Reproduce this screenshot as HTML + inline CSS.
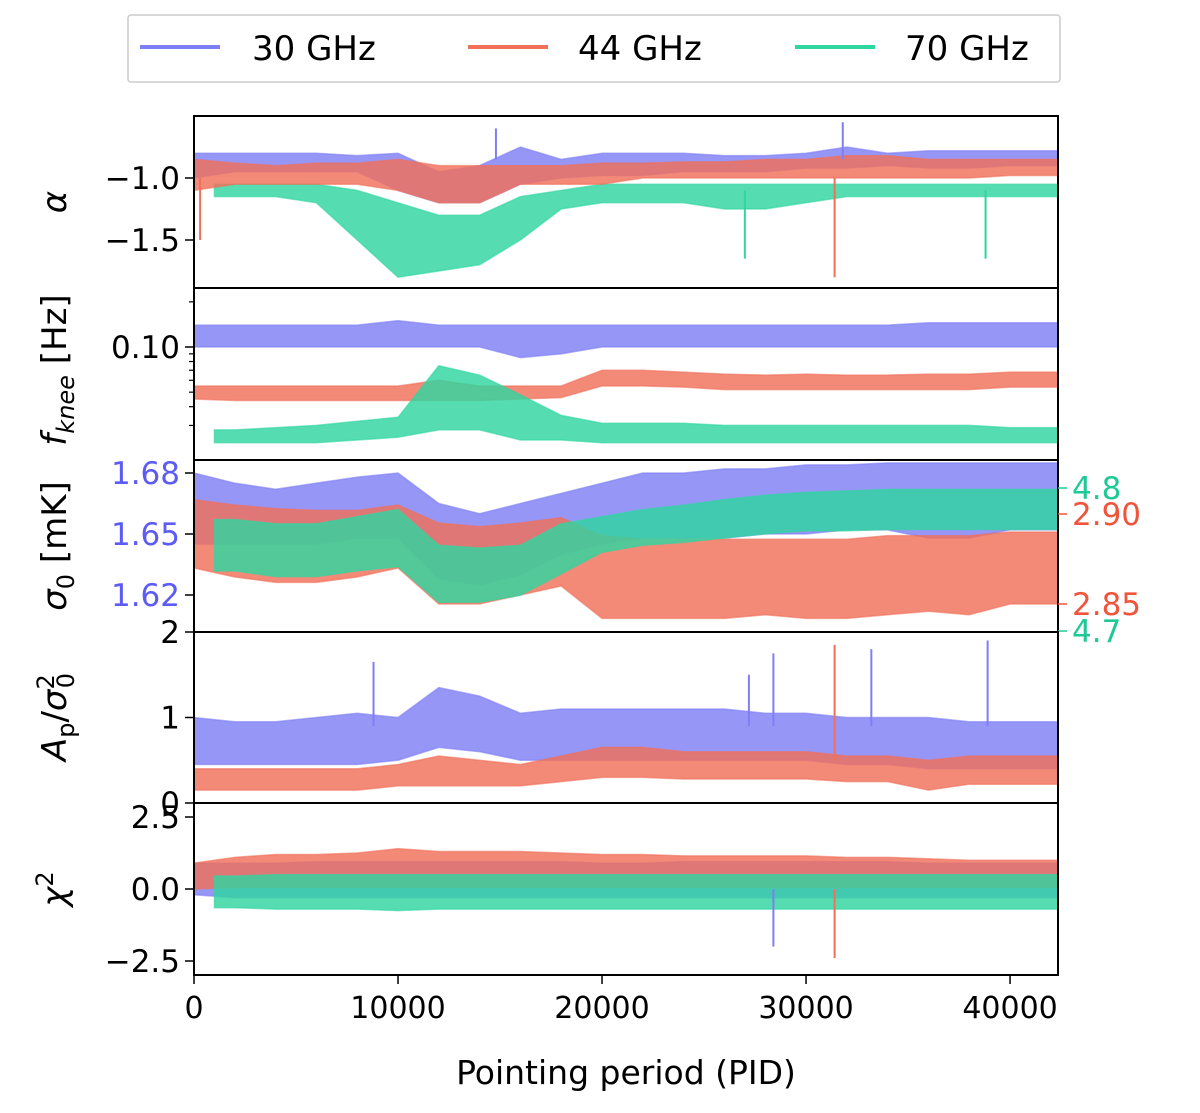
<!DOCTYPE html>
<html><head><meta charset="utf-8"><style>
body{margin:0;background:#fff;}
svg text{font-family:"DejaVu Sans","Liberation Sans",sans-serif;}
</style></head><body>
<svg id="c" width="1200" height="1108" xmlns="http://www.w3.org/2000/svg">
<g>
<rect x="128" y="15" width="932" height="67" fill="#fff" stroke="#ccc" stroke-width="1.5" rx="3"/>
<line x1="140" y1="47" x2="220" y2="47" stroke="#7f7ff5" stroke-width="4"/>
<text x="252" y="60" font-size="34">30 GHz</text>
<line x1="468" y1="47" x2="548" y2="47" stroke="#f0705a" stroke-width="4"/>
<text x="578" y="60" font-size="34">44 GHz</text>
<line x1="795" y1="47" x2="875" y2="47" stroke="#30d5a0" stroke-width="4"/>
<text x="905" y="60" font-size="34">70 GHz</text>
</g>
</svg>
<script>
const N=NaN;
const pids=[0,2000,4000,6000,8000,10000,12000,14000,16000,18000,20000,22000,24000,26000,28000,30000,32000,34000,36000,38000,40000,42350];
// alpha
const aBlueHi=[-0.8,-0.8,-0.8,-0.8,-0.82,-0.8,-0.95,-0.9,-0.75,-0.85,-0.8,-0.8,-0.8,-0.82,-0.82,-0.8,-0.75,-0.8,-0.78,-0.78,-0.78,-0.78];
const aBlueLo=[-1.0,-0.95,-0.95,-0.95,-0.95,-1.1,-1.2,-1.2,-1.05,-1.0,-0.98,-0.98,-0.95,-0.95,-0.95,-0.92,-0.92,-0.9,-0.92,-0.92,-0.9,-0.9];
const aRedHi=[-0.85,-0.88,-0.9,-0.88,-0.88,-0.85,-0.9,-0.9,-0.9,-0.9,-0.88,-0.88,-0.87,-0.87,-0.85,-0.85,-0.82,-0.82,-0.85,-0.85,-0.85,-0.85];
const aRedLo=[-1.1,-1.05,-1.05,-1.05,-1.05,-1.1,-1.2,-1.2,-1.05,-1.05,-1.05,-1.0,-1.0,-1.0,-1.0,-1.0,-1.0,-1.0,-1.0,-1.0,-0.98,-0.98];
const aGreenHi=[N,-1.05,-1.05,-1.05,-1.1,-1.2,-1.3,-1.3,-1.15,-1.1,-1.05,-1.05,-1.05,-1.05,-1.05,-1.05,-1.05,-1.05,-1.05,-1.05,-1.05,-1.05];
const aGreenLo=[N,-1.15,-1.15,-1.2,-1.5,-1.8,-1.75,-1.7,-1.5,-1.25,-1.2,-1.2,-1.2,-1.25,-1.25,-1.2,-1.15,-1.15,-1.15,-1.15,-1.15,-1.15];
// fknee
const fBlueHi=[0.14,0.14,0.14,0.14,0.14,0.15,0.14,0.14,0.14,0.14,0.14,0.14,0.14,0.14,0.14,0.14,0.14,0.14,0.145,0.145,0.145,0.145];
const fBlueLo=[0.1,0.1,0.1,0.1,0.1,0.1,0.1,0.1,0.085,0.09,0.1,0.1,0.1,0.1,0.1,0.1,0.1,0.1,0.1,0.1,0.1,0.1];
const fRedHi=[0.055,0.055,0.055,0.055,0.055,0.055,0.06,0.055,0.055,0.055,0.07,0.07,0.068,0.066,0.065,0.066,0.065,0.065,0.066,0.066,0.068,0.068];
const fRedLo=[0.045,0.044,0.044,0.044,0.044,0.044,0.044,0.044,0.045,0.046,0.055,0.055,0.054,0.052,0.052,0.052,0.052,0.052,0.052,0.052,0.054,0.054];
const fGreenHi=[N,0.028,0.029,0.03,0.032,0.034,0.075,0.065,0.048,0.035,0.031,0.031,0.031,0.03,0.03,0.03,0.03,0.03,0.03,0.03,0.029,0.029];
const fGreenLo=[N,0.023,0.023,0.023,0.024,0.025,0.028,0.028,0.024,0.024,0.023,0.023,0.023,0.023,0.023,0.023,0.023,0.023,0.023,0.023,0.023,0.023];
// sigma0 (blue left axis, red/green right axes)
const sBlueHi=[1.68,1.675,1.672,1.675,1.678,1.68,1.665,1.66,1.665,1.67,1.675,1.68,1.68,1.682,1.682,1.684,1.684,1.685,1.685,1.685,1.685,1.685];
const sBlueLo=[1.645,1.645,1.645,1.645,1.648,1.648,1.628,1.625,1.63,1.64,1.645,1.648,1.648,1.648,1.65,1.65,1.652,1.652,1.648,1.648,1.652,1.652];
const sRedHi=[2.908,2.905,2.903,2.902,2.902,2.905,2.895,2.893,2.895,2.898,2.888,2.886,2.886,2.886,2.886,2.886,2.886,2.888,2.888,2.888,2.89,2.89];
const sRedLo=[2.87,2.865,2.862,2.862,2.865,2.87,2.85,2.85,2.855,2.86,2.842,2.842,2.842,2.842,2.844,2.842,2.842,2.844,2.846,2.844,2.85,2.85];
const sGreenHi=[N,4.778,4.775,4.775,4.78,4.785,4.76,4.758,4.76,4.775,4.78,4.785,4.788,4.792,4.795,4.797,4.798,4.799,4.799,4.799,4.799,4.799];
const sGreenLo=[N,4.742,4.738,4.738,4.742,4.745,4.72,4.72,4.725,4.74,4.755,4.76,4.762,4.765,4.768,4.77,4.77,4.771,4.771,4.771,4.771,4.771];
// Ap/sigma0^2
const pBlueHi=[1.0,0.95,0.95,1.0,1.05,1.0,1.35,1.25,1.05,1.1,1.1,1.1,1.1,1.1,1.05,1.05,1.0,1.0,1.0,0.95,0.95,0.95];
const pBlueLo=[0.45,0.45,0.45,0.45,0.45,0.5,0.65,0.6,0.5,0.5,0.5,0.5,0.5,0.5,0.5,0.5,0.45,0.45,0.4,0.4,0.4,0.4];
const pRedHi=[0.4,0.4,0.4,0.4,0.4,0.45,0.55,0.5,0.45,0.55,0.65,0.65,0.6,0.6,0.6,0.6,0.55,0.55,0.5,0.55,0.55,0.55];
const pRedLo=[0.15,0.15,0.15,0.15,0.15,0.2,0.2,0.2,0.2,0.25,0.3,0.3,0.28,0.28,0.28,0.28,0.25,0.25,0.15,0.22,0.22,0.22];
// chi2
const cBlueHi=[0.9,0.9,0.9,0.95,0.95,0.95,0.95,0.95,0.95,0.95,0.9,0.9,0.95,0.95,0.95,0.95,0.95,0.95,0.9,0.9,0.9,0.9];
const cBlueLo=[-0.2,-0.3,-0.3,-0.3,-0.3,-0.3,-0.3,-0.3,-0.3,-0.3,-0.3,-0.3,-0.3,-0.3,-0.3,-0.3,-0.3,-0.3,-0.3,-0.3,-0.3,-0.3];
const cRedHi=[0.9,1.1,1.2,1.2,1.25,1.4,1.3,1.3,1.3,1.25,1.2,1.2,1.15,1.15,1.15,1.15,1.1,1.1,1.05,1.0,1.0,1.0];
const cRedLo=[0.0,0.05,0.05,0.05,0.05,0.05,0.05,0.05,0.05,0.05,0.05,0.05,0.05,0.05,0.05,0.05,0.05,0.05,0.05,0.05,0.05,0.05];
const cGreenHi=[N,0.45,0.5,0.5,0.5,0.5,0.5,0.5,0.5,0.5,0.5,0.5,0.5,0.5,0.5,0.5,0.5,0.5,0.5,0.5,0.5,0.5];
const cGreenLo=[N,-0.65,-0.7,-0.7,-0.7,-0.75,-0.7,-0.7,-0.7,-0.7,-0.7,-0.7,-0.7,-0.7,-0.7,-0.7,-0.7,-0.7,-0.7,-0.7,-0.7,-0.7];
// spikes: [series, pid, value]
const aSpikes=[["r",300,-1.5],["r",31400,-1.8],["g",27000,-1.65],["g",38800,-1.65],["b",14800,-0.6],["b",31800,-0.55]];
const pSpikes=[["b",8800,1.65],["b",27200,1.5],["b",28400,1.75],["r",31400,1.85],["b",33200,1.8],["b",38900,1.9]];
const cSpikes=[["b",28400,-2.0],["r",31400,-2.4]];
const xTicks=[0,10000,20000,30000,40000];

const X0=194,X1=1058,XMAX=42350;
const xs=p=>X0+(X1-X0)*p/XMAX;
const col={b:"#7f7ff5",r:"#f0705a",g:"#30d5a0"};
const svg=document.getElementById('c');
const NS="http://www.w3.org/2000/svg";
function mk(t,a,parent){const e=document.createElementNS(NS,t);for(const k in a)e.setAttribute(k,a[k]);(parent||svg).appendChild(e);return e;}
function lin(v0,y0,v1,y1){return v=>y0+(y1-y0)*(v-v0)/(v1-v0);}
function band(hi,lo,ys,c,name,top,bot){
  const g=mk('g',{});
  
  
  let up=[],dn=[];
  for(let i=0;i<pids.length;i++){
    if(isNaN(hi[i]))continue;
    const x=xs(pids[i]);
    up.push([x,Math.max(top,ys(hi[i]))]);dn.push([x,Math.min(bot,ys(lo[i]))]);
  }
  if(isNaN(hi[0])){up.unshift([xs(1000),up[0][1]]);dn.unshift([xs(1000),dn[0][1]]);}
  const pts=up.concat(dn.reverse()).map(p=>p.join(',')).join(' ');
  mk('polygon',{points:pts,fill:c,'fill-opacity':0.82,stroke:c,'stroke-width':1.5,'stroke-opacity':0.6},g);
}
function spikes(arr,ys,base,name){
  arr.forEach(s=>{const x=xs(s[1]);
    const l=mk('line',{x1:x,x2:x,y1:ys(base(s[0])),y2:ys(s[2]),stroke:col[s[0]],'stroke-width':2});
    
    });
}
function frame(top,bot,name){
  const r=mk('rect',{x:X0,y:top,width:X1-X0,height:bot-top,fill:'none',stroke:'#000','stroke-width':2});
  
  
}
function ytick(y,label,color,side){
  if(side==='r'){mk('line',{x1:X1,x2:X1+9,y1:y,y2:y,stroke:color,'stroke-width':1.5});
    const t=mk('text',{x:X1+14,y:y+11,'font-size':31,fill:color});t.textContent=label;
    return;}
  mk('line',{x1:X0-9,x2:X0,y1:y,y2:y,stroke:'#000','stroke-width':1.5});
  const t=mk('text',{x:X0-14,y:y+11,'font-size':31,fill:color||'#000','text-anchor':'end'});t.textContent=label;
  
}
function ylabel(y,html,name){
  const t=mk('text',{x:0,y:0,'font-size':34,'text-anchor':'middle',transform:`translate(66,${y}) rotate(-90)`});
  t.innerHTML=html;
  
}
// Panel 1 alpha
{const top=116,bot=288,ys=lin(-1.0,178,-1.5,240);
band(aBlueHi,aBlueLo,ys,col.b,'alpha-30ghz',top,bot);band(aGreenHi,aGreenLo,ys,col.g,'alpha-70ghz',top,bot);band(aRedHi,aRedLo,ys,col.r,'alpha-44ghz',top,bot);
spikes(aSpikes,ys,k=>k==='g'?-1.1:k==='r'?-1.0:-0.85,'alpha-spike');
frame(top,bot,'alpha-panel');ytick(ys(-1.0),'−1.0');ytick(ys(-1.5),'−1.5');
ylabel(202,'<tspan font-style="italic">α</tspan>','alpha-axis-title');}
// Panel 2 fknee
{const top=288,bot=460,ys=v=>347-150*Math.log10(v/0.1);
band(fBlueHi,fBlueLo,ys,col.b,'fknee-30ghz',top,bot);band(fRedHi,fRedLo,ys,col.r,'fknee-44ghz',top,bot);band(fGreenHi,fGreenLo,ys,col.g,'fknee-70ghz',top,bot);
frame(top,bot,'fknee-panel');ytick(ys(0.1),'0.10');
[0.2,0.03,0.04,0.05,0.06,0.07,0.08,0.09].forEach(v=>{const y=ys(v);if(y>top&&y<bot)mk('line',{x1:X0-5,x2:X0,y1:y,y2:y,stroke:'#000','stroke-width':1.2});});
ylabel(370,'<tspan font-style="italic">f</tspan><tspan font-style="italic" font-size="24" dy="8">knee</tspan><tspan dy="-8"> [Hz]</tspan>','fknee-axis-title');}
// Panel 3 sigma0
{const top=460,bot=632,yb=lin(1.68,473,1.62,595),yr=lin(2.90,514,2.85,604),yg=lin(4.8,488,4.7,631);
band(sBlueHi,sBlueLo,yb,col.b,'sigma0-30ghz',top,bot);band(sRedHi,sRedLo,yr,col.r,'sigma0-44ghz',top,bot);band(sGreenHi,sGreenLo,yg,col.g,'sigma0-70ghz',top,bot);
frame(top,bot,'sigma0-panel');
ytick(yb(1.68),'1.68','#5c5cf5');ytick(yb(1.65),'1.65','#5c5cf5');ytick(yb(1.62),'1.62','#5c5cf5');
ytick(yr(2.90),'2.90','#f0553c','r');ytick(yr(2.85),'2.85','#f0553c','r');
ytick(yg(4.8),'4.8','#1fc996','r');ytick(yg(4.7),'4.7','#1fc996','r');
ylabel(546,'<tspan font-style="italic">σ</tspan><tspan font-size="24" dy="8">0</tspan><tspan dy="-8"> [mK]</tspan>','sigma0-axis-title');}
// Panel 4 Ap
{const top=632,bot=803,ys=lin(0,803,2,632);
band(pBlueHi,pBlueLo,ys,col.b,'ap-30ghz',top,bot);band(pRedHi,pRedLo,ys,col.r,'ap-44ghz',top,bot);
spikes(pSpikes,ys,k=>k==='r'?0.5:0.9,'ap-spike');
frame(top,bot,'ap-panel');ytick(ys(2),'2');ytick(ys(1),'1');ytick(ys(0),'0');
ylabel(717,'<tspan font-style="italic">A</tspan><tspan font-size="24" dy="8">p</tspan><tspan dy="-8">/</tspan><tspan font-style="italic">σ</tspan><tspan font-size="24" dy="-12">2</tspan><tspan font-size="24" dx="-14" dy="20">0</tspan>','ap-axis-title');}
// Panel 5 chi2
{const top=803,bot=975,ys=lin(0,889,2.5,817);
band(cBlueHi,cBlueLo,ys,col.b,'chi2-30ghz',top,bot);band(cRedHi,cRedLo,ys,col.r,'chi2-44ghz',top,bot);band(cGreenHi,cGreenLo,ys,col.g,'chi2-70ghz',top,bot);
spikes(cSpikes,ys,k=>0,'chi2-spike');
frame(top,bot,'chi2-panel');ytick(ys(2.5),'2.5');ytick(ys(0),'0.0');ytick(ys(-2.5),'−2.5');
ylabel(889,'<tspan font-style="italic">χ</tspan><tspan font-size="24" dy="-13">2</tspan>','chi2-axis-title');}
// x axis
xTicks.forEach(v=>{const x=xs(v);mk('line',{x1:x,x2:x,y1:975,y2:984,stroke:'#000','stroke-width':1.5});
 const t=mk('text',{x:x,y:1018,'font-size':30,'text-anchor':'middle'});t.textContent=v;
 });
{const t=mk('text',{x:626,y:1084,'font-size':33,'text-anchor':'middle'});t.textContent='Pointing period (PID)';
}
</script>
</body></html>
